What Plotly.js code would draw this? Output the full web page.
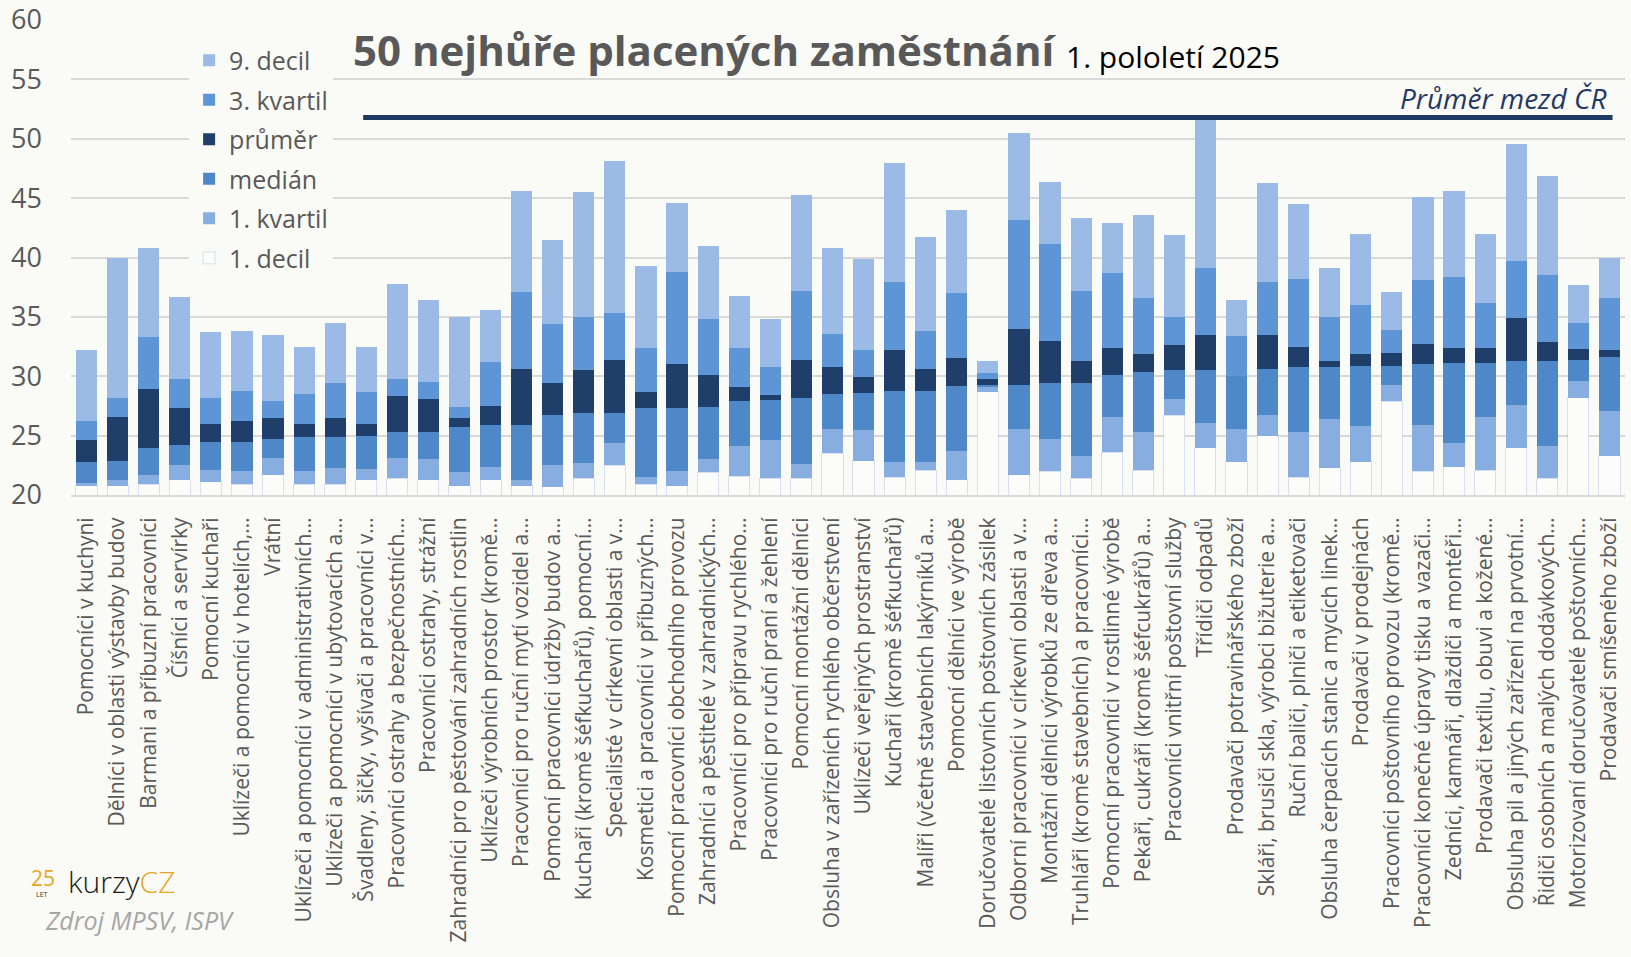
<!DOCTYPE html>
<html>
<head>
<meta charset="utf-8">
<script src="https://cdn.plot.ly/plotly-3.0.1.min.js"></script>
<style>
  body { margin: 0; background: #FAFAF6; }
  #graf { width: 1631px; height: 957px; }
</style>
</head>
<body>
<div id="graf"></div>
<script>
// 50 nejhure placenych zamestnani, 1. pololeti 2025 (tis. Kc)
let kategorie = [
  "Pomocníci v kuchyni",
  "Dělníci v oblasti výstavby budov",
  "Barmani a příbuzní pracovníci",
  "Číšníci a servírky",
  "Pomocní kuchaři",
  "Uklízeči a pomocníci v hotelích,…",
  "Vrátní",
  "Uklízeči a pomocníci v administrativních…",
  "Uklízeči a pomocníci v ubytovacích a…",
  "Švadleny, šičky, vyšívači a pracovníci v…",
  "Pracovníci ostrahy a bezpečnostních…",
  "Pracovníci ostrahy, strážní",
  "Zahradníci pro pěstování zahradních rostlin",
  "Uklízeči výrobních prostor (kromě…",
  "Pracovníci pro ruční mytí vozidel a…",
  "Pomocní pracovníci údržby budov a…",
  "Kuchaři (kromě šéfkuchařů), pomocní…",
  "Specialisté v církevní oblasti a v…",
  "Kosmetici a pracovníci v příbuzných…",
  "Pomocní pracovníci obchodního provozu",
  "Zahradníci a pěstitelé v zahradnických…",
  "Pracovníci pro přípravu rychlého…",
  "Pracovníci pro ruční praní a žehlení",
  "Pomocní montážní dělníci",
  "Obsluha v zařízeních rychlého občerstvení",
  "Uklízeči veřejných prostranství",
  "Kuchaři (kromě šéfkuchařů)",
  "Malíři (včetně stavebních lakýrníků a…",
  "Pomocní dělníci ve výrobě",
  "Doručovatelé listovních poštovních zásilek",
  "Odborní pracovníci v církevní oblasti a v…",
  "Montážní dělníci výrobků ze dřeva a…",
  "Truhláři (kromě stavebních) a pracovníci…",
  "Pomocní pracovníci v rostlinné výrobě",
  "Pekaři, cukráři (kromě šéfcukrářů) a…",
  "Pracovníci vnitřní poštovní služby",
  "Třídiči odpadů",
  "Prodavači potravinářského zboží",
  "Skláři, brusiči skla, výrobci bižuterie a…",
  "Ruční baliči, plniči a etiketovači",
  "Obsluha čerpacích stanic a mycích linek…",
  "Prodavači v prodejnách",
  "Pracovníci poštovního provozu (kromě…",
  "Pracovníci konečné úpravy tisku a vazači…",
  "Zedníci, kamnáři, dlaždiči a montéři…",
  "Prodavači textilu, obuvi a kožené…",
  "Obsluha pil a jiných zařízení na prvotní…",
  "Řidiči osobních a malých dodávkových…",
  "Motorizovaní doručovatelé poštovních…",
  "Prodavači smíšeného zboží"
]

let decil1 = [20.8, 20.8, 20.9, 21.3, 21.1, 20.9, 21.7, 20.9, 20.9, 21.3,
              21.4, 21.3, 20.8, 21.3, 20.8, 20.7, 21.4, 22.5, 20.9, 20.8,
              21.9, 21.6, 21.4, 21.4, 23.5, 22.9, 21.5, 22.1, 21.3, 28.7,
              21.7, 22.0, 21.4, 23.6, 22.1, 26.7, 24.0, 22.8, 25.0, 21.5,
              22.3, 22.8, 27.9, 22.0, 22.4, 22.1, 24.0, 21.4, 28.2, 23.3]
let kvartil1 = [21.0, 21.3, 21.7, 22.5, 22.1, 22.0, 23.1, 22.0, 22.3, 22.2,
                23.1, 23.0, 21.9, 22.4, 21.3, 22.5, 22.7, 24.4, 21.5, 22.0,
                23.0, 24.1, 24.6, 22.6, 25.6, 25.5, 22.8, 22.8, 23.7, 29.1,
                25.6, 24.7, 23.3, 26.6, 25.3, 28.1, 26.1, 25.6, 26.7, 25.3,
                26.4, 25.8, 29.3, 25.9, 24.4, 26.6, 27.6, 24.1, 29.6, 27.1]
let median = [22.8, 22.9, 24.0, 24.2, 24.5, 24.5, 24.7, 24.9, 24.9, 25.0,
              25.3, 25.3, 25.7, 25.9, 25.9, 26.7, 26.9, 26.9, 27.3, 27.3,
              27.4, 27.9, 28.0, 28.2, 28.5, 28.6, 28.8, 28.8, 29.2, 29.3,
              29.3, 29.4, 29.4, 30.1, 30.4, 30.5, 30.5, 30.0, 30.6, 30.8,
              30.8, 30.9, 30.9, 31.0, 31.1, 31.1, 31.3, 31.3, 31.4, 31.6]
let prumer = [24.6, 26.6, 28.9, 27.3, 26.0, 26.2, 26.5, 26.0, 26.5, 26.0,
              28.3, 28.1, 26.5, 27.5, 30.6, 29.4, 30.5, 31.4, 28.7, 31.0,
              30.1, 29.1, 28.4, 31.4, 30.8, 29.9, 32.2, 30.6, 31.5, 29.8,
              34.0, 33.0, 31.3, 32.4, 31.9, 32.6, 33.5, 30.0, 33.5, 32.5,
              31.3, 31.9, 32.0, 32.7, 32.4, 32.4, 34.9, 32.9, 32.3, 32.2]
let kvartil3 = [26.2, 28.2, 33.3, 29.8, 28.2, 28.8, 27.9, 28.5, 29.4, 28.7,
                29.8, 29.5, 27.4, 31.2, 37.1, 34.4, 35.0, 35.3, 32.4, 38.8,
                34.8, 32.4, 30.8, 37.2, 33.6, 32.2, 37.9, 33.8, 37.0, 30.3,
                43.2, 41.1, 37.2, 38.7, 36.6, 35.0, 39.1, 33.4, 37.9, 38.2,
                35.0, 36.0, 33.9, 38.1, 38.4, 36.2, 39.7, 38.5, 34.5, 36.6]
let decil9 = [32.2, 40.0, 40.8, 36.7, 33.7, 33.8, 33.5, 32.5, 34.5, 32.5,
              37.8, 36.4, 35.0, 35.6, 45.6, 41.5, 45.5, 48.1, 39.3, 44.6,
              41.0, 36.8, 34.8, 45.3, 40.8, 39.9, 48.0, 41.7, 44.0, 31.3,
              50.5, 46.4, 43.3, 42.9, 43.6, 41.9, 51.9, 36.4, 46.3, 44.5,
              39.1, 42.0, 37.1, 45.1, 45.6, 42.0, 49.6, 46.9, 37.7, 40.0]

let prumerCR = 51.8

// vyska useku = rozdil mezi sousednimi hodnotami
function rozdil(horni, dolni){
    return horni.map(function(v, i){ return Math.round((v - dolni[i]) * 100) / 100 })
}

let pozadi = "#FAFAF6"
let seda = "#595959"

function usek(nazev, hodnoty, barva, poradi){
    return {
        x: kategorie,
        y: hodnoty,
        type: "bar",
        name: nazev,
        legendgroup: nazev,
        legendrank: poradi,
        marker: {color: barva, line: {width: 0}},
        hoverinfo: "skip"
    }
}

let t1 = usek("1. decil", decil1, "#FCFCFA", 6)
t1.marker.line = {color: "rgba(150,175,220,0.35)", width: 1}
let t2 = usek("1. kvartil", rozdil(kvartil1, decil1), "#88AEE1", 5)
let t3 = usek("medián", rozdil(median, kvartil1), "#4F88C9", 4)
let t4 = usek("průměr", rozdil(prumer, median), "#1F3F6A", 3)
let t5 = usek("3. kvartil", rozdil(kvartil3, prumer), "#5E95D6", 2)
let t6 = usek("9. decil", rozdil(decil9, kvartil3), "#9BBBE6", 1)

let graphData = [t1, t2, t3, t4, t5, t6]

let layout = {
    width: 1631,
    height: 957,
    paper_bgcolor: pozadi,
    plot_bgcolor: pozadi,
    margin: {l: 71, r: 6, t: 20, b: 461.5, pad: 0},
    barmode: "stack",
    bargap: 0.32,
    font: {family: "Open Sans", color: seda},
    showlegend: true,
    legend: {
        x: 0.076, y: 0.963, xanchor: "left", yanchor: "top",
        bgcolor: pozadi,
        font: {size: 25, color: seda},
        traceorder: "grouped",
        tracegroupgap: 4
    },
    xaxis: {
        type: "category",
        tickmode: "linear", tick0: 0, dtick: 1,
        tickangle: -90,
        tickfont: {size: 21, color: seda},
        ticks: "",
        showline: true, linecolor: "#D9D9D9", linewidth: 2,
        showgrid: false,
        ticklabelstandoff: 12,
        automargin: false,
        fixedrange: true
    },
    yaxis: {
        range: [20, 60],
        tick0: 20, dtick: 5,
        gridcolor: "#D9D9D9", gridwidth: 2,
        zeroline: false,
        ticks: "",
        tickfont: {size: 27, color: seda},
        ticklabelstandoff: 28,
        ticklabeloverflow: "allow",
        automargin: false,
        fixedrange: true
    },
    shapes: [{
        type: "line", layer: "above",
        xref: "paper", x0: 0.188, x1: 0.992,
        yref: "y", y0: prumerCR, y1: prumerCR,
        line: {color: "#1F3864", width: 5}
    }],
    annotations: [
        {text: "<b>50 nejhůře placených zaměstnání</b>", xref: "paper", yref: "paper",
         x: 0.1802, y: 0.937, xanchor: "left", yanchor: "middle", showarrow: false,
         font: {size: 42, color: seda}},
        {text: "1. pololetí 2025", xref: "paper", yref: "paper",
         x: 0.639, y: 0.9236, xanchor: "left", yanchor: "middle", showarrow: false,
         font: {size: 30, color: "#000000"}},
        {text: "<i>Průměr mezd ČR</i>", xref: "paper", yref: "paper",
         x: 0.989, y: 0.836, xanchor: "right", yanchor: "middle", showarrow: false,
         font: {size: 28, color: "#1F3864"}},
        {text: "25", xref: "paper", yref: "paper",
         x: -0.0183, y: -0.806, xanchor: "center", yanchor: "middle", showarrow: false,
         font: {size: 21, color: "#E5A823"}},
        {text: "LET", xref: "paper", yref: "paper",
         x: -0.0185, y: -0.842, xanchor: "center", yanchor: "middle", showarrow: false,
         font: {size: 7, color: "#333333"}},
        {text: "kurzy<span style='color:#E5A823'>CZ</span>", xref: "paper", yref: "paper",
         x: -0.003, y: -0.8139, xanchor: "left", yanchor: "middle", showarrow: false,
         font: {size: 30, color: "#1A1A1A", weight: 300}},
        {text: "<i>Zdroj MPSV, ISPV</i>", xref: "paper", yref: "paper",
         x: -0.018, y: -0.895, xanchor: "left", yanchor: "middle", showarrow: false,
         font: {size: 25, color: "#A6A6A6"}}
    ]
}

Plotly.newPlot("graf", graphData, layout, {displayModeBar: false, staticPlot: true})
</script>
</body>
</html>
